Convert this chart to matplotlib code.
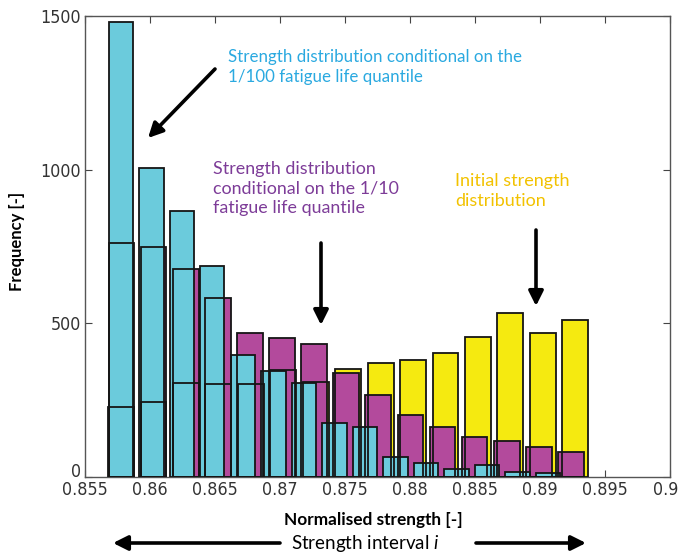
import matplotlib
matplotlib.use("Agg")
import matplotlib.pyplot as plt
import matplotlib.transforms as mtrans

plt.rcParams['mathtext.fontset'] = 'custom'
plt.rcParams['mathtext.it'] = 'Lato:italic'
plt.rcParams['mathtext.rm'] = 'Lato'

# Histogram data (15 bins each, bin centres)
initial_centres = [0.85777, 0.86027, 0.86276, 0.86526, 0.86775, 0.87025, 0.87275, 0.87524,
                   0.87774, 0.88023, 0.88273, 0.88523, 0.88772, 0.89022, 0.89271]
initial_counts = [227, 245, 307, 302, 302, 348, 310, 350, 372, 380, 402, 455, 535, 468, 510]

q10_centres = [0.85781, 0.86028, 0.86275, 0.86522, 0.86769, 0.87016, 0.87262, 0.87509,
               0.87756, 0.88003, 0.88250, 0.88497, 0.88744, 0.88991, 0.89238]
q10_counts = [762, 750, 676, 582, 468, 451, 433, 337, 267, 202, 164, 131, 118, 97, 82]

q100_centres = [0.85775, 0.86010, 0.86244, 0.86479, 0.86714, 0.86949, 0.87183, 0.87418,
                0.87653, 0.87887, 0.88122, 0.88357, 0.88592, 0.88826, 0.89061]
q100_counts = [1480, 1004, 866, 685, 397, 346, 307, 175, 162, 66, 45, 25, 39, 17, 14]

xticks = [0.855, 0.86, 0.865, 0.87, 0.875, 0.88, 0.885, 0.89, 0.895, 0.9]
xtick_labels = ['0.855', '0.86', '0.865', '0.87', '0.875', '0.88', '0.885', '0.89', '0.895', '0.9']
yticks = [0, 500, 1000, 1500]

YELLOW = '#f5ea10'
MAGENTA = '#b34a9c'
CYAN = '#6bcbdc'

W, H = 681, 556
fig = plt.figure(figsize=(W / 100, H / 100), dpi=100)
ax = fig.add_axes([85 / W, 1 - 477 / H, (670 - 85) / W, (477 - 16) / H])

series = [
    (initial_centres, initial_counts, YELLOW),
    (q10_centres, q10_counts, MAGENTA),
    (q100_centres, q100_counts, CYAN),
]

# faces first, then all the outlines on top
for centres, counts, col in series:
    width = 0.8 * (centres[-1] - centres[0]) / (len(centres) - 1)
    ax.bar(centres, counts, width=width, color=col, edgecolor='none', zorder=2)
for centres, counts, col in series:
    width = 0.8 * (centres[-1] - centres[0]) / (len(centres) - 1)
    ax.bar(centres, counts, width=width, fill=False, edgecolor='#151515', linewidth=1.3, zorder=3)

ax.set_xlim(0.855, 0.9)
ax.set_ylim(0, 1500)
ax.set_xticks(xticks)
ax.set_xticklabels(xtick_labels)
ax.set_yticks(yticks)
ax.tick_params(direction='in', length=5, top=True, right=True, color='#444444',
               labelsize=12.8, pad=3)
for lab in ax.get_xticklabels() + ax.get_yticklabels():
    lab.set_family('DejaVu Sans')
    lab.set_stretch('condensed')
    lab.set_color('#333333')
for s in ax.spines.values():
    s.set_color('#555555')
    s.set_linewidth(1.0)

# lift the "0" on the y axis a little, and keep "0.9" inside the figure
t0 = ax.yaxis.get_major_ticks()[0]
t0.label1.set_transform(t0.label1.get_transform() +
                        mtrans.ScaledTranslation(0, 7 / 100, fig.dpi_scale_trans))
tl = ax.xaxis.get_major_ticks()[-1]
tl.label1.set_transform(tl.label1.get_transform() +
                        mtrans.ScaledTranslation(-4 / 100, 0, fig.dpi_scale_trans))

ax.set_ylabel('Frequency [-]', fontsize=12, fontweight='bold', family='Lato')
ax.yaxis.set_label_coords(-0.103, 0.51)


def fx(x):
    return x / W


def fy(y):
    return 1 - y / H


fig.text(fx(373), fy(520), 'Normalised strength [-]', fontsize=12.4, fontweight='bold',
         family='Lato', ha='center', va='center')

fig.text(fx(228), fy(49), 'Strength distribution conditional on the\n1/100 fatigue life quantile',
         color='#2aa9e0', fontsize=12.2, family='Lato', ha='left', va='top', linespacing=1.3)
fig.text(fx(213), fy(161), 'Strength distribution\nconditional on the 1/10\nfatigue life quantile',
         color='#7d3c98', fontsize=12.9, family='Lato', ha='left', va='top', linespacing=1.28)
fig.text(fx(455), fy(173), 'Initial strength\ndistribution',
         color='#f2c200', fontsize=13, family='Lato', ha='left', va='top', linespacing=1.28)

arrow = dict(arrowstyle='-|>', lw=2.6, mutation_scale=22, color='black', shrinkA=0, shrinkB=0)
arrows = [((215, 69), (148, 138)), ((321, 243), (321, 325)), ((536, 230), (536, 306)),
          ((280, 543), (113, 543)), ((476, 543), (586, 543))]
for (x0, y0), (x1, y1) in arrows:
    fig.add_artist(matplotlib.patches.FancyArrowPatch((fx(x0), fy(y0)), (fx(x1), fy(y1)),
                                                      transform=fig.transFigure, **arrow))

fig.text(fx(365), fy(544), r'Strength interval $i$', fontsize=13.5, family='Lato',
         ha='center', va='center')

fig.savefig('out.png', dpi=100)
